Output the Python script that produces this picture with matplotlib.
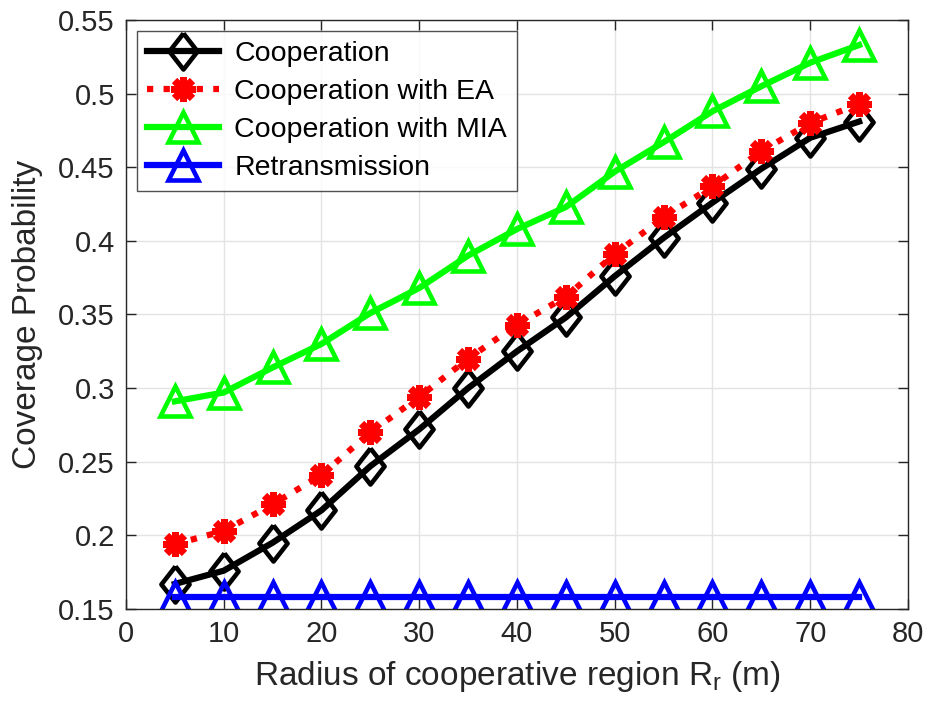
import matplotlib.pyplot as plt
import numpy as np

radius = [5, 10, 15, 20, 25, 30, 35, 40, 45, 50, 55, 60, 65, 70, 75]

cooperation = [0.167, 0.176, 0.195, 0.217, 0.247, 0.272, 0.300, 0.325,
               0.348, 0.376, 0.402, 0.426, 0.449, 0.470, 0.481]
cooperation_ea = [0.194, 0.203, 0.221, 0.241, 0.270, 0.294, 0.320, 0.343,
                  0.362, 0.391, 0.416, 0.437, 0.461, 0.480, 0.493]
cooperation_mia = [0.291, 0.297, 0.314, 0.330, 0.351, 0.368, 0.390, 0.408,
                   0.423, 0.447, 0.467, 0.488, 0.505, 0.521, 0.533]
retransmission = [0.158] * len(radius)

plt.rcParams["font.family"] = ["Liberation Sans", "DejaVu Sans"]
plt.rcParams["mathtext.fontset"] = "custom"
plt.rcParams["mathtext.rm"] = "Liberation Sans"

# slightly tall diamond, like MATLAB's 'd' marker
tall_diamond = [(0, 1), (0.78, 0), (0, -1), (-0.78, 0), (0, 1)]

fig = plt.figure(figsize=(9.29, 7.13), dpi=100)
ax = fig.add_axes([0.1356, 0.1459, 0.8418, 0.8261])

lw = 4.5
mew = 3.3
ax.plot(radius, cooperation, "-", color="black", lw=lw, marker=tall_diamond,
        ms=26, mew=mew, mfc="none", label="Cooperation")
ax.plot(radius, cooperation_ea, ":", color="red", lw=lw, marker=(8, 2, 0),
        ms=18, mew=5, label="Cooperation with EA")
ax.plot(radius, cooperation_mia, "-", color="#00ff00", lw=lw, marker="^",
        ms=22, mew=mew, mfc="none", label="Cooperation with MIA")
ax.plot(radius, retransmission, "-", color="blue", lw=lw, marker="^",
        ms=22, mew=mew, mfc="none", label="Retransmission")

ax.set_xlim(0, 80)
ax.set_ylim(0.15, 0.55)
ax.set_xticks(np.arange(0, 81, 10))
ax.set_yticks(np.arange(0.15, 0.551, 0.05))
ax.set_yticklabels(["0.15", "0.2", "0.25", "0.3", "0.35", "0.4", "0.45", "0.5", "0.55"])
ax.grid(True, color="#e3e3e3", lw=1)
ax.set_axisbelow(True)
ax.tick_params(direction="in", top=True, right=True, length=7, width=1,
               labelsize=21, colors="#262626", pad=8)
for s in ax.spines.values():
    s.set_color("#262626")
    s.set_linewidth(1)

ax.set_xlabel("Radius of cooperative region R$_\\mathregular{r}$ (m)", fontsize=24,
              color="#262626", labelpad=8)
ax.set_ylabel("Coverage Probability", fontsize=24, color="#262626", labelpad=11)

leg = ax.legend(loc="upper left", fontsize=20.5, frameon=True, fancybox=False,
                edgecolor="#262626", borderaxespad=0.4, handlelength=2.5,
                labelspacing=0.42, borderpad=0.35, handletextpad=0.55)
leg.get_frame().set_linewidth(1)

fig.savefig("out.png", dpi=100)
